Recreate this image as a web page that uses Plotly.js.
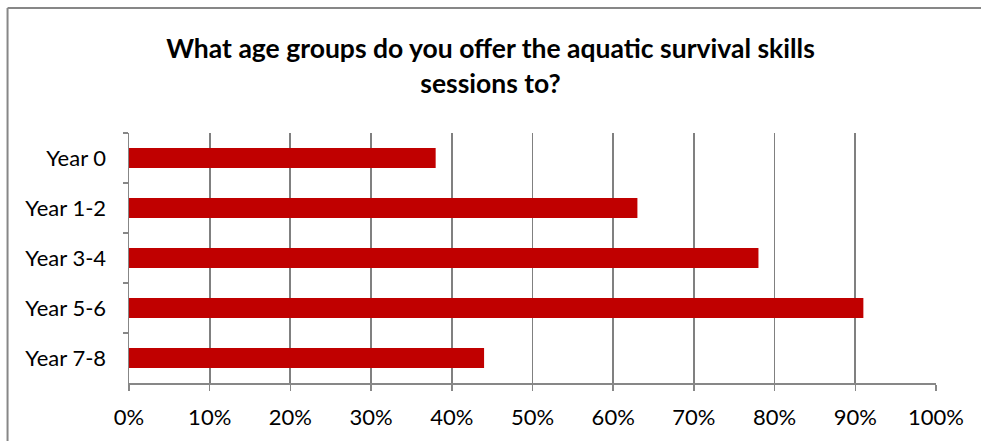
<!DOCTYPE html>
<html>
<head>
<meta charset="utf-8">
<script src="https://cdn.plot.ly/plotly-3.0.1.min.js"></script>
<style>
  html, body { margin: 0; padding: 0; background: #ffffff; }
  #chart { width: 981px; height: 441px; }
</style>
</head>
<body>
<div id="chart"></div>
<script>
const categories = ["Year 0", "Year 1-2", "Year 3-4", "Year 5-6", "Year 7-8"];
const shares = [0.38, 0.63, 0.78, 0.91, 0.44];
const titleText = "What age groups do you offer the aquatic survival skills<br>sessions to?";

const FONT = "Lato, 'Open Sans', sans-serif";
const GRID = "#878787";

const trace = {
  type: "bar",
  orientation: "h",
  y: categories,
  x: shares,
  marker: { color: "#C00000", line: { width: 0 } },
  hoverinfo: "x+y"
};

const layout = {
  width: 981,
  height: 441,
  paper_bgcolor: "#ffffff",
  plot_bgcolor: "#ffffff",
  margin: { l: 129, r: 45, t: 133, b: 58 },
  bargap: 0.6,
  showlegend: false,
  font: { family: FONT, color: "#000000", size: 22 },
  title: {
    text: titleText,
    font: { family: FONT, size: 26.5, color: "#000000", weight: "bold" },
    x: 0.5,
    xref: "container",
    xanchor: "center",
    y: 0.868,
    yref: "container",
    yanchor: "top"
  },
  xaxis: {
    range: [0, 1],
    dtick: 0.1,
    tick0: 0,
    tickformat: ".0%",
    showgrid: true,
    gridcolor: "#808080",
    gridwidth: 1.8,
    zeroline: false,
    showline: true,
    linecolor: GRID,
    linewidth: 1.5,
    ticks: "outside",
    ticklen: 6,
    tickwidth: 1.5,
    tickcolor: GRID,
    ticklabelstandoff: 8,
    tickfont: { family: FONT, size: 22, color: "#000000" },
    fixedrange: true
  },
  yaxis: {
    type: "category",
    autorange: "reversed",
    showgrid: false,
    zeroline: false,
    showline: true,
    linecolor: GRID,
    linewidth: 1.5,
    ticks: "outside",
    tickson: "boundaries",
    ticklen: 5,
    tickwidth: 1.5,
    tickcolor: GRID,
    ticklabelstandoff: 17,
    tickfont: { family: FONT, size: 22, color: "#000000" },
    fixedrange: true
  },
  shapes: [
    { type: "line", xref: "paper", yref: "paper",
      x0: -0.1505, x1: -0.1505, y0: -0.4, y1: 1.5,
      line: { color: GRID, width: 2 } },
    { type: "line", xref: "paper", yref: "paper",
      x0: -0.1505, x1: 1.2, y0: 1.5, y1: 1.5,
      line: { color: GRID, width: 2 } }
  ]
};

Plotly.newPlot("chart", [trace], layout, { displayModeBar: false, staticPlot: true });
</script>
</body>
</html>
